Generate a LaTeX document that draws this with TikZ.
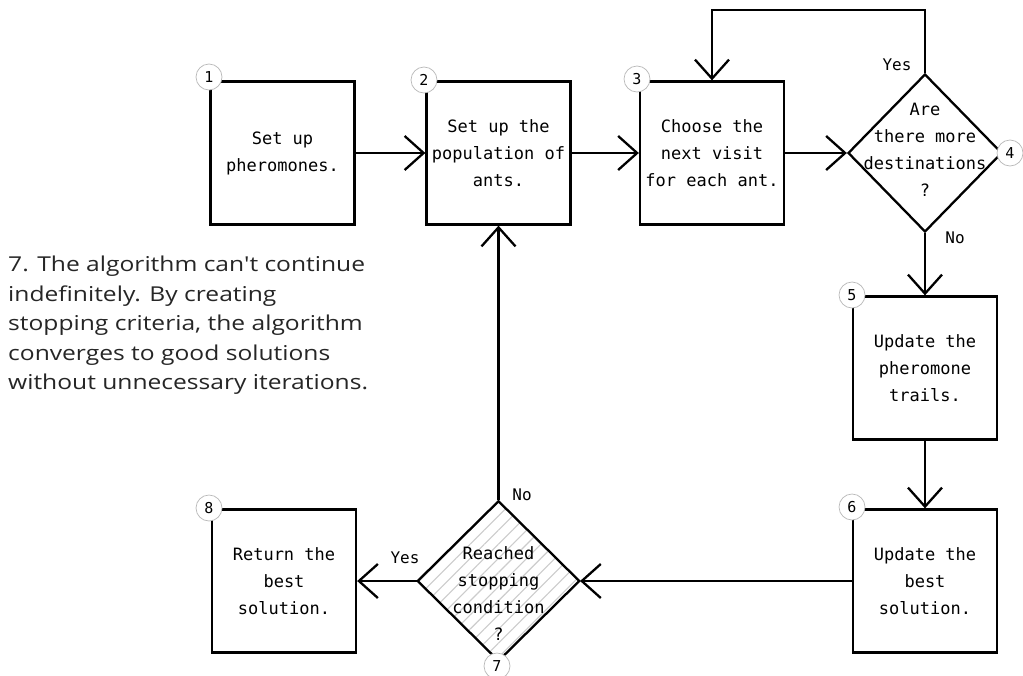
\documentclass[tikz,border=0pt]{standalone}
\usepackage{fontspec}
\usetikzlibrary{arrows.meta,shapes.geometric,patterns.meta}
\newfontfamily\boxfont{DejaVu Sans Mono}
\newfontfamily\notefont[FakeStretch=1.2]{Open Sans}
\begin{document}
\begin{tikzpicture}[x=1pt,y=-1pt,
  every node/.style={inner sep=0pt},
  boxtext/.style={align=center, font=\boxfont\fontsize{17}{27}\selectfont},
  stepbox/.style={boxtext, draw, line width=2.3pt, rectangle,
                  minimum width=144pt, minimum height=143pt},
  decision/.style={draw, line width=2.3pt, diamond, minimum width=#1,
                   minimum height=158pt},
  conn/.style={draw, line width=2.3pt,
               -{Straight Barb[length=19pt,width=34pt]}},
  answer/.style={font=\boxfont\fontsize{16}{20}\selectfont},
  num/.style={circle, draw=gray!55, line width=0.7pt, fill=white,
              minimum size=26pt, font=\boxfont\fontsize{15}{15}\selectfont}
]
\useasboundingbox (0,0) rectangle (1023,675);
\fill[white] (0,0) rectangle (1023,675);

% process steps
\node[stepbox] (b1) at (282.5,153) {Set up\\pheromones.};
\node[stepbox] (b2) at (498.5,153) {Set up the\\population of\\ants.};
\node[stepbox] (b3) at (712,153) {Choose the\\next visit\\for each ant.};
\node[stepbox] (b5) at (925,368) {Update the\\pheromone\\trails.};
\node[stepbox] (b6) at (925,581) {Update the\\best\\solution.};
\node[stepbox] (b8) at (284,581) {Return the\\best\\solution.};

% decisions
\node[decision=154pt] (d4) at (925,153) {};
\node[boxtext] (t4) at (925,150) {Are\\there more\\destinations\\?};
\node[decision=162pt, minimum height=160pt,
      pattern={Lines[angle=45,distance=10pt,line width=1.1pt]},
      pattern color=gray!40] (d7) at (498.5,581) {};
\node[boxtext] (t7) at (498.5,594) {Reached\\stopping\\condition\\?};

% connectors
\coordinate (loopR) at (925,10);
\coordinate (loopL) at (712,10);
\draw[conn] (b1.east) -- (b2.west);
\draw[conn] (b2.east) -- (b3.west);
\draw[conn] (b3.east) -- (d4.west);
\draw[conn] (d4.north) -- (loopR) -- (loopL) -- (b3.north);
\draw[conn] (d4.south) -- (b5.north);
\draw[conn] (b5.south) -- (b6.north);
\draw[conn] (b6.west) -- (d7.east);
\draw[conn] (d7.west) -- (b8.east);
\draw[conn] (d7.north) -- (b2.south);

% branch labels
\node[answer] (y4) at (897,65) {Yes};
\node[answer] (n4) at (955,238) {No};
\node[answer] (n7) at (522,495) {No};
\node[answer] (y7) at (405,558) {Yes};

% step numbers
\node[num] (c1) at (209,77) {1};
\node[num] (c2) at (424,80) {2};
\node[num] (c3) at (637,79) {3};
\node[num] (c4) at (1010,153) {4};
\node[num] (c5) at (852,295) {5};
\node[num] (c6) at (852,507) {6};
\node[num] (c7) at (497,666) {7};
\node[num] (c8) at (209,508) {8};

% note on the stopping condition
\node[anchor=north west, align=left, text=black!85,
      font=\notefont\fontsize{20.5}{29.5}\selectfont] (note) at (8,256)
  {7. The algorithm can't continue\\
   indefinitely. By creating\\
   stopping criteria, the algorithm\\
   converges to good solutions\\
   without unnecessary iterations.};
\end{tikzpicture}
\end{document}
